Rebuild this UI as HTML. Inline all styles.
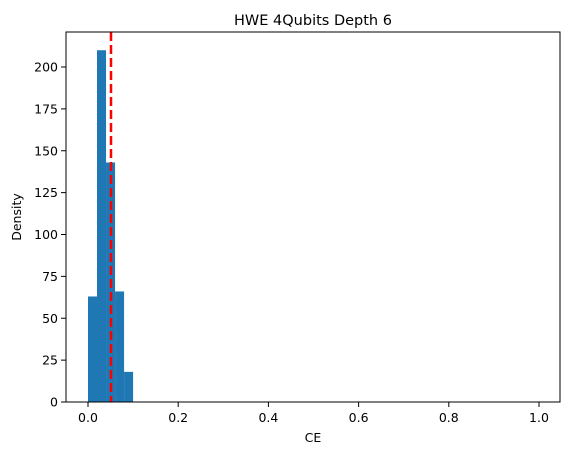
<!DOCTYPE html>
<html><head><meta charset="utf-8"><style>
body{margin:0;background:#fff;font-family:"Liberation Sans","DejaVu Sans",sans-serif}
text{font-family:"DejaVu Sans","Liberation Sans",sans-serif}
</style></head><body>
<svg id="c" width="571" height="455"></svg>
<script>
const binEdges=[0,0.02,0.04,0.06,0.08,0.1];
const densities=[63,210,143,66,18];
const meanValue=0.051;
const xTicks=[0,0.2,0.4,0.6,0.8,1.0];
const xTickLabels=["0.0","0.2","0.4","0.6","0.8","1.0"];
const yTicks=[0,25,50,75,100,125,150,175,200];
const L=66,R=560,T=32,B=402;
const sx=v=>88+v*451;
const sy=v=>B-v*1.675;
const svg=document.getElementById('c');
const NS='http://www.w3.org/2000/svg';
function mk(t,a){const e=document.createElementNS(NS,t);for(const k in a)e.setAttribute(k,a[k]);svg.appendChild(e);return e;}
for(let i=0;i<densities.length;i++){
 const r=mk('rect',{x:sx(binEdges[i]),y:sy(densities[i]),width:sx(binEdges[i+1])-sx(binEdges[i]),height:B-sy(densities[i]),fill:'#1f77b4'});
 
 
}
const ml=mk('line',{x1:sx(meanValue),x2:sx(meanValue),y1:T,y2:B,stroke:'#ff0000','stroke-width':2.5,'stroke-dasharray':'9,4'});


const fr=mk('rect',{x:L,y:T,width:R-L,height:B-T,fill:'none',stroke:'#000','stroke-width':1});


xTicks.forEach((v,i)=>{
 mk('line',{x1:sx(v),x2:sx(v),y1:B,y2:B+5,stroke:'#000'});
 const t=mk('text',{x:sx(v),y:B+20,'text-anchor':'middle','font-size':12.5});
 t.textContent=xTickLabels[i];
 
 
});
yTicks.forEach(v=>{
 mk('line',{x1:L-5,x2:L,y1:sy(v),y2:sy(v),stroke:'#000'});
 const t=mk('text',{x:L-8,y:sy(v)+4.5,'text-anchor':'end','font-size':12.5});
 t.textContent=v;
 
 
});
const ti=mk('text',{x:(L+R)/2,y:T-7,'text-anchor':'middle','font-size':14.5});
ti.textContent='HWE 4Qubits Depth 6';


const xl=mk('text',{x:(L+R)/2,y:B+40,'text-anchor':'middle','font-size':12.5});
xl.textContent='CE';


const yl=mk('text',{x:0,y:0,'text-anchor':'middle','font-size':12.5,transform:`translate(21,${(T+B)/2}) rotate(-90)`});
yl.textContent='Density';


</script>
</body></html>
